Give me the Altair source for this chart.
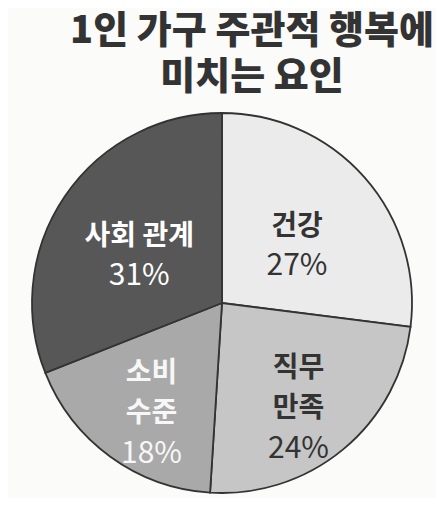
import altair as alt
import pandas as pd

FONT = "Noto Sans CJK KR"

categories = ["건강", "직무 만족", "소비 수준", "사회 관계"]
names = ["건강", "직무\n만족", "소비\n수준", "사회 관계"]
values = [27, 24, 18, 31]
pct_labels = ["27%", "24%", "18%", "31%"]
fills = ["#ebebeb", "#c6c6c6", "#a9a9a9", "#575757"]
text_colors = ["#333333", "#333333", "#f7f7f7", "#ffffff"]

df = pd.DataFrame({
    "category": categories,
    "name": names,
    "value": values,
    "pct": pct_labels,
    "order": list(range(len(categories))),
})

base = alt.Chart(df)

arcs = base.mark_arc(outerRadius=190, stroke="#333333", strokeWidth=1.8).encode(
    theta=alt.Theta("value:Q", stack=True, scale=alt.Scale(domain=[0, 100])),
    color=alt.Color("category:N", scale=alt.Scale(domain=categories, range=fills), legend=None),
    order=alt.Order("order:Q"),
)

lab = base.transform_window(
    cum="sum(value)", sort=[alt.SortField("order")]
).transform_calculate(mid="datum.cum - datum.value / 2")

tcolor = alt.Color("category:N", scale=alt.Scale(domain=categories, range=text_colors), legend=None)
th = alt.Theta("mid:Q", stack=False, scale=alt.Scale(domain=[0, 100]))


def layer(expr, r, name_dy, pct_dy):
    names_l = lab.transform_filter(expr).mark_text(
        radius=r, baseline="top", dy=name_dy, fontSize=28, fontWeight="bold",
        font=FONT, lineBreak="\n", lineHeight=40, align="center",
    ).encode(theta=th, text="name:N", color=tcolor)
    pct_l = lab.transform_filter(expr).mark_text(
        radius=r, baseline="middle", dy=pct_dy, fontSize=30, fontWeight="normal",
        font=FONT, align="center",
    ).encode(theta=th, text="pct:N", color=tcolor)
    return [names_l, pct_l]


layers = (
    layer("indexof(datum.name, '\\n') < 0", 100, -33 + 9, 20 + 9)
    + layer("indexof(datum.name, '\\n') >= 0", 120, -53 + 13, 41 + 13)
)

chart = alt.layer(arcs, *layers).resolve_scale(color="independent", theta="independent").properties(
    width=428,
    height=390,
    padding={"top": 5, "left": 0, "right": 0, "bottom": 0},
    background="#fbfbfa",
    title=alt.TitleParams(
        text=["1인 가구 주관적 행복에", "미치는 요인"],
        fontSize=38,
        fontWeight=900,
        font=FONT,
        color="#333333",
        lineHeight=46,
        anchor="middle",
        dx=30,
        offset=11,
    ),
).configure_view(strokeWidth=0)

chart.save("out.html", embed_options={"renderer": "svg", "actions": False})
